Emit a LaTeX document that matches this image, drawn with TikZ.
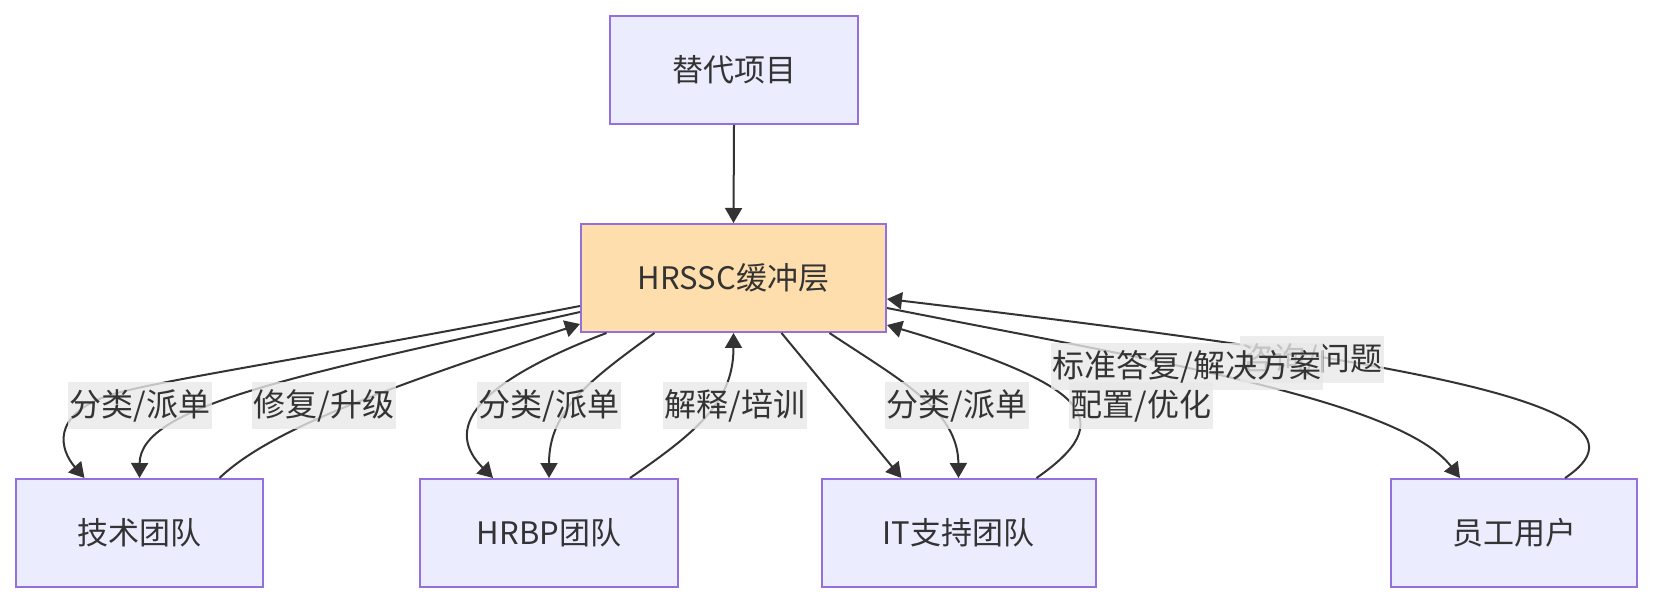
\documentclass[tikz,border=0pt]{standalone}
\usepackage{fontspec}
\setmainfont{Noto Sans CJK SC}
\usetikzlibrary{arrows.meta,calc}
\definecolor{nodefill}{HTML}{ECECFF}
\definecolor{nodeborder}{HTML}{9370DB}
\definecolor{hrfill}{HTML}{FFDEAD}
\definecolor{edgec}{HTML}{333333}
\definecolor{textc}{HTML}{333333}
\definecolor{labelbg}{HTML}{E8E8E8}
\begin{document}
\begin{tikzpicture}[x=0.5pt,y=-0.5pt,
  box/.style={draw=nodeborder, line width=1pt, fill=nodefill, minimum height=54pt, inner sep=0pt, text=textc, font=\fontsize{15.5pt}{19pt}\selectfont},
  edge/.style={draw=edgec, line width=1pt, -{Triangle[length=7.5pt,width=8.5pt]}},
  lbl/.style={fill=labelbg, fill opacity=0.8, text opacity=1, text=textc, inner xsep=1pt, inner ysep=0pt, minimum height=23.5pt, font=\fontsize{16pt}{19pt}\selectfont}]
\useasboundingbox (0,0) rectangle (1656,604);
\node[box, minimum width=124pt] (tdxm) at (734,70) {替代项目};
\node[box, fill=hrfill, minimum width=152.5pt] (hrssc) at (733.5,278) {HRSSC缓冲层};
\node[box, minimum width=123.5pt] (jishu) at (139.5,533) {技术团队};
\node[box, minimum width=129pt] (hrbp) at (549,533) {HRBP团队};
\node[box, minimum width=137pt] (it) at (958.5,533) {IT支持团队};
\node[box, minimum width=123pt] (yg) at (1514,533) {员工用户};

\draw[edge] (tdxm.south) -- (hrssc.north);
% tech team
\draw[edge] ($(hrssc.west)+(0,28)$) .. controls (300,360) and (160,380) .. (110,395) .. controls (50,415) and (60,450) .. ($(jishu.north)+(-55,0)$);
\draw[edge] ($(hrssc.west)+(0,34)$) .. controls (300,375) and (140,405) .. (jishu.north);
\draw[edge] ($(jishu.north)+(80,0)$) .. controls (270,430) and (380,390) .. ($(hrssc.west)+(0,46)$);
% HRBP
\draw[edge] ($(hrssc.south)+(-127,0)$) .. controls (470,385) and (445,430) .. ($(hrbp.north)+(-56,0)$);
\draw[edge] ($(hrssc.south)+(-79,0)$) .. controls (590,380) and (549,410) .. (hrbp.north);
\draw[edge] ($(hrbp.north)+(81,0)$) .. controls (700,430) and (733.5,400) .. (hrssc.south);
% IT
\draw[edge] ($(hrssc.south)+(48,0)$) -- ($(it.north)+(-57,0)$);
\draw[edge] ($(hrssc.south)+(96,0)$) .. controls (900,380) and (958,410) .. (it.north);
\draw[edge] ($(it.north)+(78,0)$) .. controls (1120,420) and (1090,385) .. ($(hrssc.east)+(0,47)$);
% employees
\draw[edge] ($(hrssc.east)+(0,30)$) .. controls (1150,360) and (1400,400) .. ($(yg.north)+(-54,0)$);
\draw[edge] ($(yg.north)+(51,0)$) .. controls (1675,405) and (1400,360) .. ($(hrssc.east)+(0,21)$);

\node[lbl] (l1) at (140,406) {分类/派单};
\node[lbl] (l2) at (324,406) {修复/升级};
\node[lbl] (l3) at (549,406) {分类/派单};
\node[lbl] (l4) at (735,406) {解释/培训};
\node[lbl] (l5) at (957,406) {分类/派单};
\node[lbl] (l6) at (1141,406) {配置/优化};
\node[lbl] (l7) at (1312,360) {咨询/问题};
\node[lbl] (l8) at (1187,367) {标准答复/解决方案};
\end{tikzpicture}
\end{document}
